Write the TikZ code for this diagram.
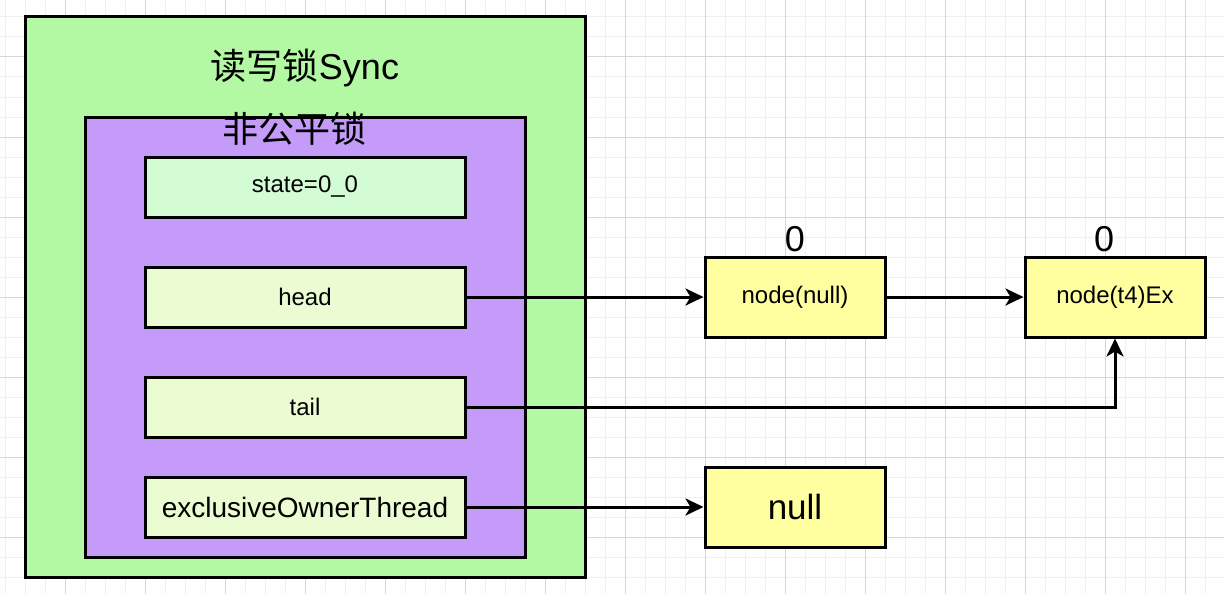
\documentclass[tikz,border=0pt]{standalone}
\usepackage{fontspec}
\setmainfont{Liberation Sans}
\newfontfamily\cjk{Noto Sans CJK SC}
\usetikzlibrary{arrows.meta, positioning}
\definecolor{SyncGreen}{RGB}{179, 249, 163}
\definecolor{LockPurple}{RGB}{196, 155, 249}
\definecolor{StateGreen}{RGB}{212, 252, 212}
\definecolor{FieldLime}{RGB}{235, 252, 210}
\definecolor{NodeYellow}{RGB}{255, 255, 160}
\definecolor{GridMinor}{RGB}{240, 240, 240}
\definecolor{GridMajor}{RGB}{214, 214, 214}

\tikzset{
  fieldbox/.style={draw=black, line width=3pt, fill=FieldLime, minimum width=320pt,
    minimum height=60pt, inner sep=0pt, font=\fontsize{24}{28}\selectfont},
  qnode/.style={draw=black, line width=3pt, fill=NodeYellow, minimum width=180pt,
    minimum height=80pt, inner sep=0pt, font=\fontsize{24}{28}\selectfont},
  link/.style={line width=3pt, -{Stealth[length=18pt, width=17pt, inset=5pt]}},
}

\begin{document}
\begin{tikzpicture}[x=1pt,y=-1pt]
  \path[use as bounding box] (0,0) rectangle (1224,594);

  % Background grid
  \fill[white] (0,0) rectangle (1224,594);
  \foreach \gx in {5,25,...,1224} \draw[GridMinor, line width=1pt] (\gx,0) -- (\gx,594);
  \foreach \gy in {17,37,...,594} \draw[GridMinor, line width=1pt] (0,\gy) -- (1224,\gy);
  \foreach \gx in {65,145,...,1224} \draw[GridMajor, line width=1pt] (\gx,0) -- (\gx,594);
  \foreach \gy in {57,137,...,594} \draw[GridMajor, line width=1pt] (0,\gy) -- (1224,\gy);

  % Sync container
  \node[draw=black, line width=3pt, fill=SyncGreen, minimum width=560pt, minimum height=560pt,
    inner sep=0pt] (sync) at (305,297) {};
  \node[font=\fontsize{36}{40}\selectfont] (synctitle) at (305,68) {{\cjk 读写锁}Sync};

  % Non-fair lock
  \node[draw=black, line width=3pt, fill=LockPurple, minimum width=440pt, minimum height=440pt,
    inner sep=0pt] (nonfair) at (305,337) {};
  \node[font=\fontsize{36}{40}\selectfont\cjk] (nonfairtitle) at (294,129) {非公平锁};

  % Fields
  \node[fieldbox, fill=StateGreen] (state) at (305,187) {state=0\_0};
  \node[fieldbox] (head) at (305,297) {head};
  \node[fieldbox] (tail) at (305,407) {tail};
  \node[fieldbox, font=\fontsize{28}{32}\selectfont] (owner) at (305,507) {exclusiveOwnerThread};

  % Queue nodes
  \node[qnode] (qnull) at (795,297) {node(null)};
  \node[qnode] (qt4) at (1115,297) {node(t4)Ex};
  \node[qnode, font=\fontsize{35}{40}\selectfont] (ownernull) at (795,507) {null};
  \node[font=\fontsize{36}{40}\selectfont] (cntnull) at (795,239) {0};
  \node[font=\fontsize{36}{40}\selectfont] (cntt4) at (1104,239) {0};

  % Links
  \draw[link] (head) -- (qnull);
  \draw[link] (qnull) -- (qt4);
  \draw[link] (tail.east) -| (qt4.south);
  \draw[link] (owner) -- (ownernull);
\end{tikzpicture}
\end{document}
